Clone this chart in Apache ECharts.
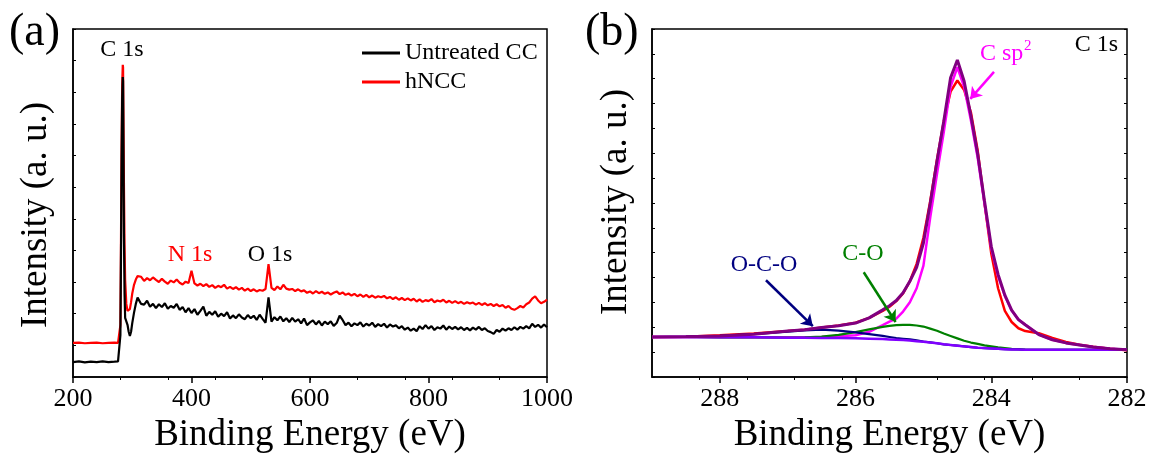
<!DOCTYPE html>
<html>
<head>
<meta charset="utf-8">
<script src="https://cdn.jsdelivr.net/npm/echarts@6/dist/echarts.min.js"></script>
<style>
html, body { margin: 0; padding: 0; background: #fff; }
#main { width: 1151px; height: 459px; }
</style>
</head>
<body>
<div id="main"></div>
<script>
// (a) survey spectra, binding energy in eV
var surveyEnergy = [
  200, 210, 220, 230, 240, 250, 260, 270, 276, 279,
  280, 281, 282, 283, 284, 284.5, 285, 286, 287, 288,
  290, 292, 294, 296, 298, 300, 303, 306, 309, 312,
  315,
  320, 325, 330, 335, 340, 345, 350, 355, 360, 365,
  370, 375, 380, 385, 390, 395, 400, 405, 410, 415,
  420, 425, 430, 435, 440, 445, 450, 455, 460, 465,
  470, 475, 480, 485, 490, 495, 500, 505, 510, 515,
  520, 525, 530, 535, 540, 545, 550, 555, 560, 565,
  570, 575, 580, 585, 590, 595, 600, 605, 610, 615,
  620, 625, 630, 635, 640, 645, 650, 655, 660, 665,
  670, 675, 680, 685, 690, 695, 700, 705, 710, 715,
  720, 725, 730, 735, 740, 745, 750, 755, 760, 765,
  770, 775, 780, 785, 790, 795, 800, 805, 810, 815,
  820, 825, 830, 835, 840, 845, 850, 855, 860, 865,
  870, 875, 880, 885, 890, 895, 900, 905, 910, 915,
  920, 925, 930, 935, 940, 945, 950, 955, 960, 965,
  970, 975, 980, 985, 990, 995, 1000
];
var surveyUntreated = [
  4.3, 4.5, 4.2, 4.4, 4.3, 4.5, 4.3, 4.4, 4.5, 4.6,
  12, 35, 62, 80, 86.2, 85, 70, 40, 24, 17,
  16.5, 15, 13, 11.8, 13, 15.5, 18.5, 21, 22.8, 22.3,
  21,
  20.8, 21.9, 20.2, 21.0, 19.8, 20.9, 20.1, 21.2, 19.6, 20.4,
  19.9, 21.0, 19.3, 20.1, 18.6, 19.8, 18.4, 19.5, 17.9, 19.0,
  20.2, 17.6, 18.7, 17.9, 18.9, 17.3, 18.2, 17.5, 18.6, 16.8,
  17.7, 16.9, 18.0, 17.1, 16.6, 17.8, 16.9, 17.6, 16.4, 17.9,
  16.7, 15.6, 22.9, 15.9, 17.2, 16.3, 17.4, 16.0, 16.9, 15.8,
  17.0, 15.9, 16.6, 15.4, 16.8, 14.9, 15.7, 16.3, 15.1, 16.1,
  14.8, 15.9, 15.2, 16.0, 14.7, 15.5, 17.6, 16.4, 14.9, 15.6,
  14.6, 15.4, 14.9, 15.7, 14.5, 15.3, 14.8, 15.6, 14.4, 15.2,
  14.6, 15.3, 14.2, 15.1, 14.5, 14.9, 14.0, 14.6, 13.6, 14.2,
  13.3, 13.9, 13.2, 14.6, 13.8, 14.9, 13.9, 14.6, 13.5, 14.3,
  13.9, 14.8, 13.6, 14.5, 13.8, 14.4, 13.7, 14.3, 13.5, 14.1,
  13.4, 14.2, 13.6, 14.4, 13.5, 14.0, 13.2, 12.9, 12.4, 13.5,
  13.0, 13.9, 13.3, 14.0, 13.5, 14.3, 13.6, 14.4, 13.9, 14.6,
  14.0, 15.3, 14.4, 15.0, 14.2, 15.1, 14.3
];
var surveyHNCC = [
  9.8, 9.9, 9.7, 9.8, 9.9, 9.7, 9.8, 9.9, 9.8, 10.0,
  15, 40, 66, 84, 89.7, 89, 78, 55, 38, 28,
  21, 19, 18.6, 19.5, 21.5, 24, 26.5, 28, 29, 29.5,
  28.8,
  27.6, 28.4, 27.8, 28.6, 27.9, 27.3, 28.2, 27.4, 26.8, 27.7,
  27.2, 28.0, 27.1, 26.6, 27.4, 27.0, 30.5, 26.9, 26.3, 26.8,
  26.1, 26.7, 25.9, 26.4, 25.6, 26.2, 25.8, 26.5, 25.4, 25.9,
  25.3, 25.8, 25.1, 25.6, 24.8, 25.4, 24.7, 25.2, 24.6, 25.0,
  24.8, 25.3, 32.4, 25.6, 25.0, 26.0, 25.2, 26.5, 25.4, 25.1,
  25.3, 24.7, 25.2, 24.6, 24.9, 24.2, 24.6, 24.0, 24.7, 24.1,
  24.5, 23.9, 24.3, 23.7, 24.2, 24.6, 23.8, 24.3, 23.6, 24.0,
  23.4, 23.9, 23.2, 23.7, 23.0, 23.6, 22.9, 23.4, 22.8, 23.2,
  22.9, 23.3, 22.6, 23.0, 22.4, 22.9, 22.2, 22.7, 22.1, 22.6,
  22.0, 22.5, 21.7, 22.3, 21.6, 22.1, 21.8, 22.4, 21.5, 22.0,
  21.7, 22.2, 21.4, 21.9, 21.3, 21.8, 21.2, 21.6, 21.0, 21.5,
  21.1, 21.4, 20.8, 21.3, 20.7, 21.2, 20.6, 21.0, 20.4, 20.9,
  20.3, 20.7, 19.9, 20.4, 19.6, 19.3, 19.8, 20.4, 20.0, 20.9,
  21.4, 22.5, 23.2, 22.0, 21.2, 21.6, 22.2
];
var surveyTicks = [200, 400, 600, 800, 1000];

// (b) C 1s high resolution fit
var c1sEnergy = [
  289, 288.5, 288, 287.5, 287, 286.75, 286.5, 286.25, 286, 285.8,
  285.6, 285.5, 285.4, 285.3, 285.2, 285.1, 285.0, 284.9, 284.8, 284.7,
  284.6, 284.5, 284.4, 284.3, 284.2, 284.1, 284.0, 283.9, 283.8, 283.7,
  283.6, 283.5, 283.3, 283.1, 282.9, 282.7, 282.5, 282.25, 282
];
var c1sRaw = [
  11.5, 11.6, 12.0, 12.5, 13.2, 13.6, 14.2, 14.8, 15.6, 17.0,
  19.0, 20.2, 21.8, 24.0, 27.5, 32.5, 40.0, 50.5, 62.5, 73.5,
  82.0, 85.2, 82.5, 76.0, 65.0, 50.0, 35.5, 25.5, 19.0, 15.8,
  14.0, 13.2, 12.6, 11.2, 10.1, 9.3, 8.7, 8.1, 7.7
];
var c1sSp2 = [
  11.5, 11.5, 11.4, 11.4, 11.4, 11.4, 11.5, 11.7, 12.0, 13.0,
  14.9, 15.9, 16.8, 18.8, 21.5, 25.5, 32.0, 45.8, 58.4, 70.4,
  83.4, 89.0, 83.4, 73.7, 62.9, 49.8, 36.9, 29.0, 23.3, 19.1,
  16.5, 15.0, 12.2, 10.7, 9.8, 9.2, 8.6, 8.1, 7.8
];
var c1sCO = [
  11.5, 11.5, 11.4, 11.4, 11.3, 11.4, 11.6, 12.1, 12.9, 13.7,
  14.4, 14.7, 14.9, 15.0, 15.0, 14.8, 14.5, 13.9, 13.3, 12.5,
  11.8, 11.1, 10.4, 9.9, 9.5, 9.1, 8.8, 8.5, 8.3, 8.1,
  8.0, 7.9, 7.8, 7.8, 7.8, 7.8, 7.8, 7.8, 7.8
];
var c1sOCO = [
  11.5, 11.6, 11.8, 12.3, 13.0, 13.4, 13.6, 13.3, 12.8, 12.3,
  11.8, 11.5, 11.2, 11.0, 10.8, 10.5, 10.2, 9.95, 9.7, 9.4,
  9.2, 9.0, 8.8, 8.6, 8.4, 8.3, 8.2, 8.1, 8.0, 7.9,
  7.9, 7.8, 7.8, 7.8, 7.8, 7.8, 7.8, 7.8, 7.8
];
var c1sBackground = [
  11.5, 11.5, 11.4, 11.4, 11.3, 11.3, 11.2, 11.2, 11.1, 11.0,
  10.9, 10.8, 10.7, 10.6, 10.5, 10.3, 10.1, 9.9, 9.7, 9.4,
  9.2, 9.0, 8.8, 8.6, 8.4, 8.3, 8.2, 8.1, 8.0, 7.9,
  7.9, 7.8, 7.8, 7.8, 7.8, 7.8, 7.8, 7.8, 7.8
];
var c1sEnvelope = [
  11.5, 11.6, 11.8, 12.3, 13.2, 13.6, 14.2, 14.7, 15.5, 17.0,
  19.3, 20.5, 22.0, 24.2, 27.5, 31.5, 38.5, 49.8, 62.0, 73.5,
  86.0, 91.1, 85.0, 75.0, 64.0, 50.6, 37.5, 29.5, 23.5, 19.2,
  16.5, 15.0, 12.2, 10.7, 9.8, 9.2, 8.6, 8.1, 7.8
];
var c1sTicks = [288, 286, 284, 282];

var serif = "'Liberation Serif', 'Times New Roman', serif";

function zip(xs, ys) {
  return xs.map(function (x, i) { return [x, ys[i]]; });
}

function textEl(txt, x, y, size, color, align) {
  return {
    type: 'text', x: x, y: y, silent: true,
    style: {
      text: txt, fill: color || '#000',
      font: size + 'px ' + serif,
      textAlign: align || 'left', textVerticalAlign: 'middle'
    }
  };
}

function arrowLine(from, to, color) {
  return {
    silent: true, symbol: ['none', 'arrow'], symbolSize: 11,
    label: { show: false }, emphasis: { disabled: true },
    lineStyle: { color: color, width: 2.5, type: 'solid' },
    data: [[{ coord: from }, { coord: to }]]
  };
}

var lineBase = { type: 'line', symbol: 'none', showSymbol: false, silent: true };

var chart = echarts.init(document.getElementById('main'));

var option = {
  animation: false,
  backgroundColor: '#fff',
  textStyle: { fontFamily: serif },
  grid: [
    { left: 73, top: 29, width: 474, height: 349, show: true, borderColor: '#000', borderWidth: 1.5, backgroundColor: 'transparent' },
    { left: 652, top: 29, width: 475, height: 349, show: true, borderColor: '#000', borderWidth: 1.5, backgroundColor: 'transparent' }
  ],
  legend: {
    data: ['Untreated CC', 'hNCC'],
    orient: 'vertical', left: 357, top: 36,
    icon: 'rect', itemWidth: 38, itemHeight: 3, itemGap: 5,
    textStyle: { fontFamily: serif, fontSize: 24, color: '#000' },
    selectedMode: false
  },
  xAxis: [
    {
      type: 'value', gridIndex: 0, min: 200, max: 1000, interval: 200,
      axisLine: { show: true, onZero: false, lineStyle: { color: '#000', width: 1.5 } },
      axisTick: { show: true, inside: false, length: 6, lineStyle: { color: '#000', width: 1.5 }, customValues: surveyTicks },
      axisLabel: { color: '#000', fontFamily: serif, fontSize: 26, margin: 9, customValues: surveyTicks,
        formatter: function (v) { return String(v); } },
      splitLine: { show: false },
      name: 'Binding Energy (eV)', nameLocation: 'middle', nameGap: 40,
      nameTextStyle: { fontFamily: serif, fontSize: 37, color: '#000' }
    },
    {
      type: 'value', gridIndex: 0, min: 200, max: 1000, position: 'top',
      axisLine: { show: false },
      axisTick: { show: true, inside: true, length: 3, lineStyle: { color: '#000', width: 1 },
        customValues: [280, 360, 440, 520, 600, 680, 760, 840, 920] },
      axisLabel: { show: false }, splitLine: { show: false }
    },
    {
      type: 'value', gridIndex: 1, min: 282, max: 289, inverse: true,
      axisLine: { show: true, onZero: false, lineStyle: { color: '#000', width: 1.5 } },
      axisTick: { show: true, inside: false, length: 6, lineStyle: { color: '#000', width: 1.5 }, customValues: c1sTicks },
      axisLabel: { color: '#000', fontFamily: serif, fontSize: 26, margin: 9, customValues: c1sTicks,
        formatter: function (v) { return String(v); } },
      splitLine: { show: false },
      name: 'Binding Energy (eV)', nameLocation: 'middle', nameGap: 40,
      nameTextStyle: { fontFamily: serif, fontSize: 37, color: '#000' }
    },
    {
      type: 'value', gridIndex: 1, min: 282, max: 289, inverse: true, position: 'top',
      axisLine: { show: false },
      axisTick: { show: true, inside: true, length: 3, lineStyle: { color: '#000', width: 1 },
        customValues: [288.3, 287.6, 286.9, 286.2, 285.5, 284.8, 284.1, 283.4, 282.7] },
      axisLabel: { show: false }, splitLine: { show: false }
    }
  ],
  yAxis: [
    {
      type: 'value', gridIndex: 0, min: 0, max: 100, interval: 100 / 11,
      axisLine: { show: true, onZero: false, lineStyle: { color: '#000', width: 1.5 } },
      axisTick: { show: true, inside: true, length: 3, lineStyle: { color: '#000', width: 1 } },
      axisLabel: { show: false }, splitLine: { show: false }
    },
    {
      type: 'value', gridIndex: 1, min: 0, max: 100, interval: 100 / 14,
      axisLine: { show: true, onZero: false, lineStyle: { color: '#000', width: 1.5 } },
      axisTick: { show: true, inside: true, length: 3, lineStyle: { color: '#000', width: 1 } },
      axisLabel: { show: false }, splitLine: { show: false }
    },
    {
      type: 'value', gridIndex: 1, min: 0, max: 100, interval: 100 / 14, position: 'right',
      axisLine: { show: false },
      axisTick: { show: true, inside: true, length: 3, lineStyle: { color: '#000', width: 1 } },
      axisLabel: { show: false }, splitLine: { show: false }
    }
  ],
  series: [
    // (a) red under black
    Object.assign({}, lineBase, {
      name: 'hNCC', xAxisIndex: 0, yAxisIndex: 0,
      data: zip(surveyEnergy, surveyHNCC),
      lineStyle: { color: '#ff0000', width: 2.2 }, itemStyle: { color: '#ff0000' }
    }),
    Object.assign({}, lineBase, {
      name: 'Untreated CC', xAxisIndex: 0, yAxisIndex: 0,
      data: zip(surveyEnergy, surveyUntreated),
      lineStyle: { color: '#000000', width: 2.2 }, itemStyle: { color: '#000000' }
    }),
    // (b) fit components
    Object.assign({}, lineBase, {
      name: 'Raw', xAxisIndex: 2, yAxisIndex: 1,
      data: zip(c1sEnergy, c1sRaw),
      lineStyle: { color: '#ff0000', width: 2.5 }
    }),
    Object.assign({}, lineBase, {
      name: 'C sp2', xAxisIndex: 2, yAxisIndex: 1,
      data: zip(c1sEnergy, c1sSp2),
      lineStyle: { color: '#ff00ff', width: 2.5 },
      markLine: arrowLine([283.96, 87.7], [284.31, 79.9], '#ff00ff')
    }),
    Object.assign({}, lineBase, {
      name: 'C-O', xAxisIndex: 2, yAxisIndex: 1,
      data: zip(c1sEnergy, c1sCO),
      lineStyle: { color: '#008000', width: 2.2 },
      markLine: arrowLine([285.88, 30.1], [285.41, 15.8], '#008000')
    }),
    Object.assign({}, lineBase, {
      name: 'O-C-O', xAxisIndex: 2, yAxisIndex: 1,
      data: zip(c1sEnergy, c1sOCO),
      lineStyle: { color: '#000080', width: 2.2 },
      markLine: arrowLine([287.32, 27.8], [286.63, 14.6], '#000080')
    }),
    Object.assign({}, lineBase, {
      name: 'Background', xAxisIndex: 2, yAxisIndex: 1,
      data: zip(c1sEnergy, c1sBackground),
      lineStyle: { color: '#8000ff', width: 2.5 }
    }),
    Object.assign({}, lineBase, {
      name: 'Envelope', xAxisIndex: 2, yAxisIndex: 1,
      data: zip(c1sEnergy, c1sEnvelope),
      lineStyle: { color: '#800080', width: 3 }
    })
  ],
  graphic: [
    textEl('(a)', 9, 33, 46),
    textEl('(b)', 585, 33, 46),
    textEl('C 1s', 122, 50, 24, '#000', 'center'),
    textEl('N 1s', 190, 255, 24, '#ff0000', 'center'),
    textEl('O 1s', 270, 255, 24, '#000', 'center'),
    textEl('C 1s', 1118, 45, 24, '#000', 'right'),
    textEl('C sp', 980, 54, 24, '#ff00ff', 'left'),
    textEl('2', 1024, 46, 15, '#ff00ff', 'left'),
    textEl('C-O', 863, 254, 24, '#008000', 'center'),
    textEl('O-C-O', 764, 265, 24, '#000080', 'center'),
    {
      type: 'text', x: 36, y: 215, rotation: Math.PI / 2, silent: true,
      style: { text: 'Intensity (a. u.)', fill: '#000', font: '37px ' + serif, textAlign: 'center', textVerticalAlign: 'middle' }
    },
    {
      type: 'text', x: 616, y: 202, rotation: Math.PI / 2, silent: true,
      style: { text: 'Intensity (a. u.)', fill: '#000', font: '37px ' + serif, textAlign: 'center', textVerticalAlign: 'middle' }
    }
  ]
};

chart.setOption(option);
</script>
</body>
</html>
